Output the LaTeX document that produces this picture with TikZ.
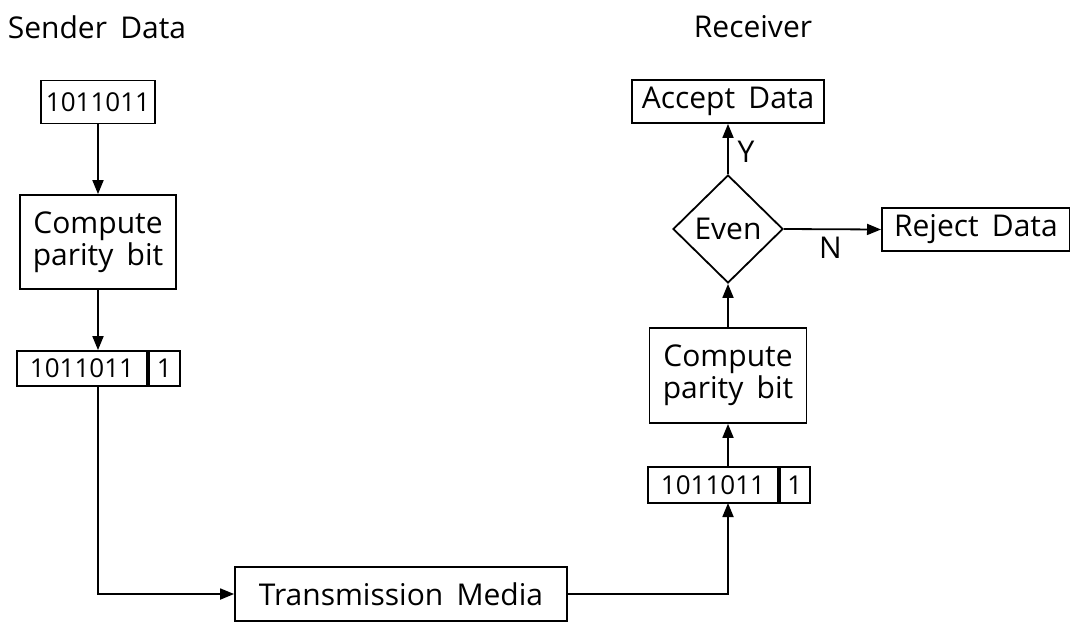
\documentclass[tikz,border=0pt]{standalone}
\usepackage{fontspec}
\setmainfont{Open Sans}[WordSpace=1.7]
\usetikzlibrary{shapes.geometric,arrows.meta,positioning}
\tikzset{
  box/.style={draw,line width=0.9pt,inner sep=0pt,align=center},
  bits/.style={box,font=\fontsize{13}{15}\selectfont},
  link/.style={line width=0.9pt},
  arr/.style={link,-{Triangle[length=7pt,width=5.5pt]}}
}
\begin{document}
\begin{tikzpicture}[x=0.5pt,y=-0.5pt,font=\fontsize{15}{18}\selectfont]
\useasboundingbox (0,0) rectangle (1070,622);
% headings
\node (sender) at (97,27) {Sender Data};
\node (recv) at (753,27) {Receiver};
% sender side
\node[bits,minimum width=57pt,minimum height=21.5pt] (data) at (98,102) {1011011};
\node[box,minimum width=78pt,minimum height=47pt] (cpa) at (98,242) {Compute\\[-2pt]parity bit};
\node[bits,minimum width=65pt,minimum height=17.5pt] (pa) at (82,368.5) {1011011};
\node[bits,minimum width=15.5pt,minimum height=17.5pt,anchor=west] (pba) at (pa.east) {1};
\draw[arr] (data) -- (cpa);
\draw[arr] (cpa.south) -- (cpa.south |- pa.north);
% media
\node[box,minimum width=166pt,minimum height=27pt] (media) at (401,594) {Transmission Media};
\draw[arr] (98,386) |- (media.west);
% receiver side
\node[bits,minimum width=65pt,minimum height=18pt] (pb) at (713,485) {1011011};
\node[bits,minimum width=15pt,minimum height=18pt,anchor=west] (pbb) at (pb.east) {1};
\coordinate (rin) at (728,503);
\draw[arr] (media.east) -| (rin);
\node[box,minimum width=78.5pt,minimum height=47.5pt] (cpb) at (728,375.5) {Compute\\[-2pt]parity bit};
\draw[arr] (728,467) -- (cpb.south);
\node[box,diamond,minimum width=55pt,minimum height=54pt] (even) at (728,229) {Even};
\draw[arr] (cpb.north) -- (even.south);
\node[box,minimum width=96pt,minimum height=21.5pt] (acc) at (728,101.5) {Accept Data};
\node[box,minimum width=94pt,minimum height=21.5pt,anchor=west] (rej) at (881,229.5) {Reject Data};
\draw[arr] (even.north) -- (acc.south) node[pos=0.45,right=1pt] {Y};
\draw[arr] (even.east) -- (rej.west) node[pos=0.48,below=0pt] {N};
\end{tikzpicture}
\end{document}
